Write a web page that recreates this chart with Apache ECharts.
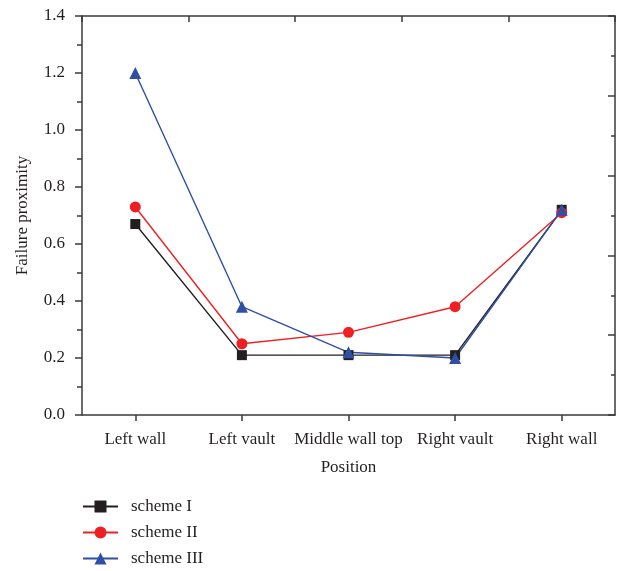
<!DOCTYPE html>
<html>
<head>
<meta charset="utf-8">
<script src="https://cdn.jsdelivr.net/npm/echarts@6/dist/echarts.min.js"></script>
<style>
  html, body { margin: 0; padding: 0; background: #fff; }
  #chart { width: 619px; height: 571px; }
</style>
</head>
<body>
<div id="chart"></div>
<script>
// Positions along the tunnel section
const positions = ['Left wall', 'Left vault', 'Middle wall top', 'Right vault', 'Right wall'];

// Failure proximity per scheme
const schemeI = [0.67, 0.21, 0.21, 0.21, 0.72];
const schemeII = [0.73, 0.25, 0.29, 0.38, 0.71];
const schemeIII = [1.20, 0.38, 0.22, 0.20, 0.72];

const seriesNames = ['scheme I', 'scheme II', 'scheme III'];

const FONT = 'Liberation Serif';
const AXIS_COLOR = '#3a3a3a';
const TEXT_COLOR = '#231f20';

const chart = echarts.init(document.getElementById('chart'), null, { renderer: 'canvas' });

function lineSeries(name, data, color, symbol, size) {
  return {
    name: name,
    type: 'line',
    data: data,
    xAxisIndex: 0,
    yAxisIndex: 0,
    symbol: symbol,
    symbolSize: size,
    showAllSymbol: true,
    lineStyle: { color: color, width: 1.4 },
    itemStyle: { color: color },
    emphasis: { disabled: true },
    animation: false
  };
}

const axisLineStyle = { color: AXIS_COLOR, width: 1.5 };

chart.setOption({
  backgroundColor: '#ffffff',
  animation: false,
  textStyle: { fontFamily: FONT, color: TEXT_COLOR },
  grid: { left: 82, right: 4, top: 16, bottom: 156, containLabel: false, outerBoundsMode: 'none' },
  legend: {
    orient: 'vertical',
    left: 82,
    top: 498,
    height: 90,
    padding: 0,
    itemWidth: 35,
    itemHeight: 15,
    itemGap: 9,
    data: seriesNames,
    textStyle: { fontFamily: FONT, fontSize: 17, color: TEXT_COLOR, padding: [0, 0, 0, 8] }
  },
  xAxis: [
    {
      type: 'category',
      data: positions,
      position: 'bottom',
      boundaryGap: true,
      name: 'Position',
      nameLocation: 'middle',
      nameGap: 44,
      nameTextStyle: { fontFamily: FONT, fontSize: 17, color: TEXT_COLOR },
      axisLine: { onZero: false, lineStyle: axisLineStyle },
      axisTick: { show: true, alignWithLabel: true, inside: false, length: 6, lineStyle: axisLineStyle },
      axisLabel: { fontFamily: FONT, fontSize: 17, color: TEXT_COLOR, margin: 16, interval: 0 },
      splitLine: { show: false }
    },
    {
      type: 'category',
      data: positions,
      position: 'top',
      boundaryGap: true,
      axisLine: { onZero: false, lineStyle: axisLineStyle },
      axisTick: { show: true, alignWithLabel: false, inside: true, length: 6, lineStyle: axisLineStyle },
      axisLabel: { show: false },
      splitLine: { show: false }
    }
  ],
  yAxis: [
    {
      type: 'value',
      min: 0,
      max: 1.4,
      interval: 0.2,
      position: 'left',
      name: 'Failure proximity',
      nameLocation: 'middle',
      nameGap: 51,
      nameTextStyle: { fontFamily: FONT, fontSize: 17, color: TEXT_COLOR },
      axisLine: { show: true, onZero: false, lineStyle: axisLineStyle },
      axisTick: { show: true, inside: false, length: 7, lineStyle: axisLineStyle },
      minorTick: { show: true, splitNumber: 2, length: 5, lineStyle: axisLineStyle },
      axisLabel: { fontFamily: FONT, fontSize: 17, color: TEXT_COLOR, margin: 17, formatter: v => v.toFixed(1) },
      splitLine: { show: false }
    },
    {
      type: 'value',
      min: 0,
      max: 1,
      interval: 0.2,
      position: 'right',
      axisLine: { show: true, onZero: false, lineStyle: axisLineStyle },
      axisTick: { show: true, inside: true, length: 7, lineStyle: axisLineStyle },
      minorTick: { show: true, splitNumber: 2, length: 4, lineStyle: axisLineStyle },
      axisLabel: { show: false },
      splitLine: { show: false }
    }
  ],
  series: [
    lineSeries(seriesNames[0], schemeI, '#231f20', 'rect', 10),
    lineSeries(seriesNames[1], schemeII, '#ed2024', 'circle', 11),
    lineSeries(seriesNames[2], schemeIII, '#2e4fa3', 'triangle', 12)
  ]
});
</script>
</body>
</html>
